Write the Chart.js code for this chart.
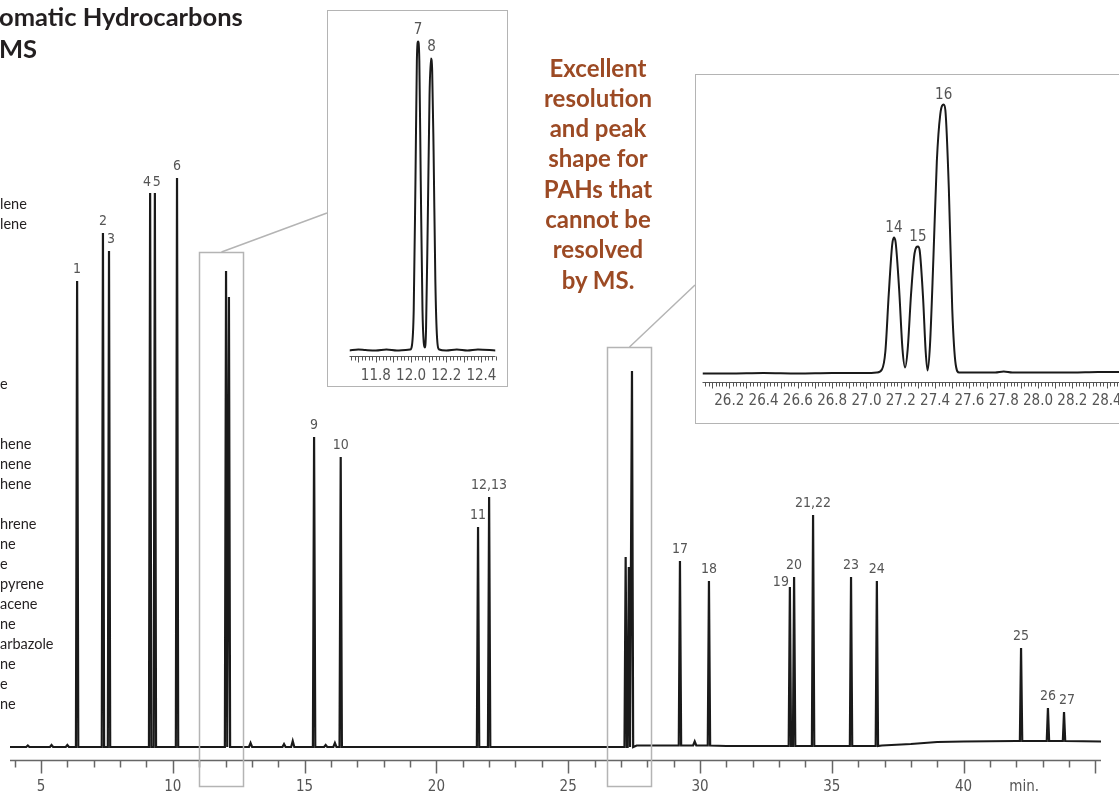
<!DOCTYPE html>
<html>
<head>
<meta charset="utf-8">
<script src="https://cdn.jsdelivr.net/npm/chart.js@4.4.1/dist/chart.umd.min.js"></script>
<style>
  html, body { margin: 0; padding: 0; background: #fff; }
  body { width: 1119px; height: 798px; position: relative; overflow: hidden; font-family: Lato, "Noto Sans", sans-serif; }
  #main { position: absolute; left: 0; top: 0; }
  .box { position: absolute; border: 1.5px solid #b4b4b4; background: #fff; box-sizing: border-box; }
  .box canvas { position: absolute; left: 0; top: 0; }
  #title { position: absolute; left: -1px; top: 1px; font-weight: 700; font-size: 25.5px; line-height: 31.6px; color: #231f20; white-space: pre; }
  #names { position: absolute; left: 0; top: 193.6px; font-size: 14.5px; line-height: 20px; color: #231f20; white-space: pre; }
  #note { position: absolute; left: 498px; width: 200px; top: 52.6px; text-align: center; font-weight: 700; font-size: 24px; line-height: 30.3px; color: rgb(156, 74, 36); white-space: pre; }
</style>
</head>
<body>
<canvas id="main" width="1119" height="798"></canvas>
<div id="title">omatic Hydrocarbons
MS</div>
<div id="names"></div>
<div id="note">Excellent
resolution
and peak
shape for
PAHs that
cannot be
resolved
by MS.</div>
<div class="box" style="left:327px;top:10px;width:181px;height:377px;"><canvas id="inset1" width="178" height="374"></canvas></div>
<div class="box" style="left:695px;top:74px;width:430px;height:350px;"><canvas id="inset2" width="427" height="347"></canvas></div>

<script>
// ---- main chromatogram (retention time in min, signal in arbitrary units) ----
const peakNames   = ['1', '2', '3', '4', '5', '6', '7', '8', '9', '10', '11', '12,13', '14', '15', '16',
                     '17', '18', '19', '20', '21,22', '23', '24', '25', '26', '27'];
const peakTimes   = [6.37, 7.35, 7.58, 9.14, 9.32, 10.16, 12.02, 12.13, 15.36, 16.37, 21.58, 22.0, 27.18, 27.30, 27.42,
                     29.24, 30.34, 33.41, 33.57, 34.29, 35.73, 36.71, 42.18, 43.2, 43.81];
const peakHeights = [466, 514, 496, 554, 554, 569, 476, 450, 310, 290, 220, 250, 190, 180, 376,
                     186, 166, 160, 170, 232, 170, 166, 99, 39, 35];
// names not printed on the full trace (they are shown in the zoomed boxes)
const hiddenInMain = ['7', '8', '14', '15', '16'];

// little bumps on the baseline
const minorTimes   = [4.5, 5.4, 6.0, 12.95, 14.22, 14.55, 15.8, 16.15, 29.8];
const minorHeights = [1.5, 2, 2, 4, 3, 6, 2, 4, 4];

// baseline drift
const driftTimes  = [3.82, 27.6, 31, 36.9, 38, 39, 40, 42, 45.22];
const driftLevels = [0, 1.5, 1, 1.5, 3, 5, 5.5, 6, 5.5];

const axisLabels = [5, 10, 15, 20, 25, 30, 35, 40];
const zoomWindows = [[10.99, 12.66], [26.47, 28.14]];

// ---- inset 1 : peaks 7 and 8 ----
const inset1Times  = [11.65, 11.70, 11.74, 11.80, 11.86, 11.92, 11.97, 11.995, 12.005, 12.015, 12.025, 12.033, 12.04,
                      12.047, 12.055, 12.065, 12.072, 12.078, 12.085, 12.095, 12.105, 12.113, 12.12, 12.128, 12.138,
                      12.148, 12.16, 12.2, 12.26, 12.32, 12.38, 12.48];
const inset1Signal = [0, 1, 0.5, 0, 1, 0, 0.5, 1, 5, 40, 170, 290, 309,
                      290, 170, 40, 8, 3, 20, 130, 255, 292, 280, 200, 70,
                      12, 1, 0, 1, 0, 1, 0];
const inset1Peaks  = [['7', 12.04, 309], ['8', 12.117, 292]];
const inset1Labels = [11.8, 12.0, 12.2, 12.4];

// ---- inset 2 : peaks 14, 15 and 16 ----
const inset2Times  = [26.044, 26.2, 26.4, 26.6, 26.8, 27.0, 27.06, 27.09, 27.11, 27.13, 27.15, 27.16, 27.17, 27.19,
                      27.21, 27.225, 27.24, 27.26, 27.28, 27.30, 27.31, 27.33, 27.345, 27.356, 27.37, 27.39, 27.41,
                      27.43, 27.45, 27.46, 27.48, 27.50, 27.52, 27.54, 27.6, 27.75, 27.8, 27.85, 28.0, 28.2, 28.35, 28.472];
const inset2Signal = [0, 0, 0.5, 0, 0.5, 0.5, 1, 4, 22, 80, 129, 136, 131, 85,
                      24, 6, 24, 80, 120, 127, 123, 75, 22, 3, 28, 115, 212,
                      259, 269, 263, 185, 64, 9, 1, 1, 1, 2, 1, 1, 1, 1.5, 1.5];
const inset2Peaks  = [['14', 27.16, 136], ['15', 27.30, 127], ['16', 27.45, 269]];
const inset2Labels = [26.2, 26.4, 26.6, 26.8, 27.0, 27.2, 27.4, 27.6, 27.8, 28.0, 28.2, 28.4];

// compound names on the left (cut by the picture edge)
const nameLines = ['lene', 'lene', '', '', '', '', '', '', '', 'e', '', '', 'hene', 'nene', 'hene', '',
                   'hrene', 'ne', 'e', 'pyrene', 'acene', 'ne', 'arbazole', 'ne', 'e', 'ne'];

document.getElementById('names').textContent = nameLines.join('\n');

const NARROW = '"Liberation Sans Narrow", "DejaVu Sans Condensed", Roboto, sans-serif';
const labelOffsets = { '3': [2, 0], '4': [-3, 1], '5': [2, 1], '19': [-9, 7], '27': [3, 0] };

function driftAt(t) {
  let v = driftLevels[0];
  driftTimes.forEach((dt, i) => { if (dt <= t) v = driftLevels[i]; });
  return v;
}

function buildTrace() {
  const pts = driftTimes.map((t, i) => ({ x: t, y: driftLevels[i] }));
  peakTimes.forEach((t, i) => {
    const b = driftAt(t);
    pts.push({ x: t - 0.045, y: b }, { x: t, y: peakHeights[i] }, { x: t + 0.045, y: b });
  });
  minorTimes.forEach((t, i) => {
    const b = driftAt(t);
    pts.push({ x: t - 0.06, y: b }, { x: t, y: b + minorHeights[i] }, { x: t + 0.06, y: b });
  });
  return pts.sort((a, b) => a.x - b.x);
}

function line(ctx, x1, y1, x2, y2) {
  ctx.beginPath(); ctx.moveTo(x1, y1); ctx.lineTo(x2, y2); ctx.stroke();
}

const mainDecor = {
  id: 'mainDecor',
  afterDraw(chart) {
    const ctx = chart.ctx, xs = chart.scales.x;
    const area = chart.chartArea;
    const axisY = area.bottom + 0.5;
    ctx.save();
    // time axis
    ctx.strokeStyle = '#666';
    ctx.lineWidth = 1.5;
    line(ctx, area.left, axisY, area.right, axisY);
    for (let t = 4; t <= 45; t++) {
      const px = Math.round(xs.getPixelForValue(t)) + 0.5;
      line(ctx, px, axisY, px, axisY + (t % 5 === 0 ? 13 : 7));
    }
    ctx.fillStyle = '#555';
    ctx.font = '15px ' + NARROW;
    ctx.textAlign = 'center';
    ctx.textBaseline = 'middle';
    axisLabels.forEach(v => ctx.fillText(String(v), xs.getPixelForValue(v), 787));
    ctx.fillText('min.', xs.getPixelForValue(42.3), 787);

    // peak numbers
    ctx.font = '14px ' + NARROW;
    peakNames.forEach((n, i) => {
      if (hiddenInMain.includes(n)) return;
      const off = labelOffsets[n] || [0, 0];
      const px = xs.getPixelForValue(peakTimes[i]) + off[0];
      const py = chart.scales.y.getPixelForValue(peakHeights[i]) - 12 + off[1];
      ctx.fillText(n, px, py);
    });

    // zoom windows and their connectors
    ctx.strokeStyle = '#b4b4b4';
    ctx.lineWidth = 1.5;
    const tops = [252, 347];
    const ends = [[327, 213], [695, 285]];
    zoomWindows.forEach((w, i) => {
      const l = Math.round(xs.getPixelForValue(w[0])) + 0.5;
      const r = Math.round(xs.getPixelForValue(w[1])) + 0.5;
      ctx.strokeRect(l, tops[i] + 0.5, r - l, 786 - tops[i]);
      line(ctx, (l + r) / 2, tops[i], ends[i][0], ends[i][1]);
    });
    ctx.restore();
  }
};

const ruler = {
  id: 'ruler',
  afterDraw(chart, args, opts) {
    const ctx = chart.ctx, xs = chart.scales.x, ys = chart.scales.y;
    const area = chart.chartArea;
    const y0 = area.bottom + 1;
    ctx.save();
    ctx.strokeStyle = '#555';
    ctx.lineWidth = 1;
    line(ctx, area.left, y0, area.right, y0);
    const first = Math.ceil(xs.min / 0.02);
    const last = Math.floor(xs.max / 0.02);
    for (let k = first; k <= last; k++) {
      const px = Math.round(xs.getPixelForValue(k * 0.02)) + 0.5;
      line(ctx, px, y0, px, y0 + (k % 5 === 0 ? 6 : 4));
    }
    ctx.fillStyle = '#555';
    ctx.font = '15px ' + NARROW;
    ctx.textAlign = 'center';
    ctx.textBaseline = 'middle';
    opts.labels.forEach(v => ctx.fillText(v.toFixed(1), xs.getPixelForValue(v), y0 + opts.labelGap));
    opts.peaks.forEach(p => ctx.fillText(p[0], xs.getPixelForValue(p[1]), ys.getPixelForValue(p[2]) - opts.peakGap));
    ctx.restore();
  }
};

const common = {
  responsive: false,
  animation: false,
  events: [],
};

new Chart(document.getElementById('main'), {
  type: 'line',
  data: { datasets: [{ data: buildTrace(), borderColor: '#1a1a1a', borderWidth: 2.2, pointRadius: 0, tension: 0 }] },
  options: Object.assign({}, common, {
    layout: { padding: { left: 10, right: 18, top: 0, bottom: 38 } },
    scales: {
      x: { type: 'linear', min: 3.824, max: 45.213, display: false },
      y: { type: 'linear', min: -13, max: 747, display: false }
    },
    plugins: { legend: { display: false }, tooltip: { enabled: false } }
  }),
  plugins: [mainDecor]
});

new Chart(document.getElementById('inset1'), {
  type: 'line',
  data: { datasets: [{ data: inset1Times.map((t, i) => ({ x: t, y: inset1Signal[i] })),
    borderColor: '#1a1a1a', borderWidth: 2, pointRadius: 0, cubicInterpolationMode: 'monotone' }] },
  options: Object.assign({}, common, {
    layout: { padding: { left: 21.5, right: 10.5, top: 8.5, bottom: 29.5 } },
    scales: {
      x: { type: 'linear', min: 11.65, max: 12.48, display: false },
      y: { type: 'linear', min: -5, max: 331, display: false }
    },
    plugins: { legend: { display: false }, tooltip: { enabled: false },
      ruler: { labels: inset1Labels, labelGap: 20, peaks: inset1Peaks, peakGap: 11 } }
  }),
  plugins: [ruler]
});

new Chart(document.getElementById('inset2'), {
  type: 'line',
  data: { datasets: [{ data: inset2Times.map((t, i) => ({ x: t, y: inset2Signal[i] })),
    borderColor: '#1a1a1a', borderWidth: 2, pointRadius: 0, cubicInterpolationMode: 'monotone' }] },
  options: Object.assign({}, common, {
    layout: { padding: { left: 6.5, right: 4, top: 14.5, bottom: 40.5 } },
    scales: {
      x: { type: 'linear', min: 26.044, max: 28.472, display: false },
      y: { type: 'linear', min: -8, max: 284, display: false }
    },
    plugins: { legend: { display: false }, tooltip: { enabled: false },
      ruler: { labels: inset2Labels, labelGap: 19, peaks: inset2Peaks, peakGap: 9 } }
  }),
  plugins: [ruler]
});
</script>
</body>
</html>
